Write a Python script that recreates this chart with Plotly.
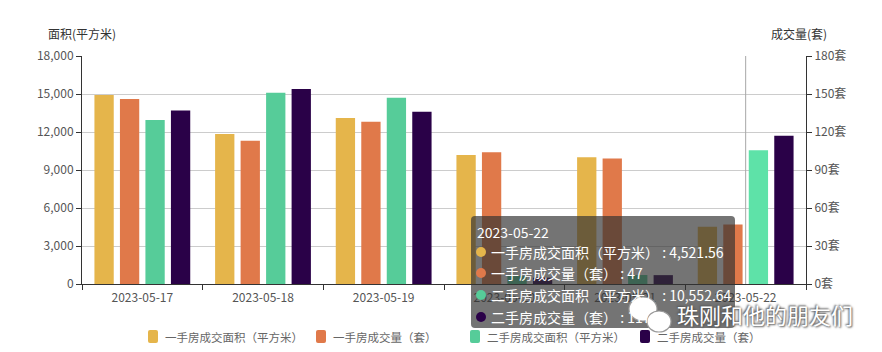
import plotly.graph_objects as go

# ---------------- data ----------------
dates = ["2023-05-17", "2023-05-18", "2023-05-19", "2023-05-20", "2023-05-21", "2023-05-22"]
new_area = [14920, 11840, 13100, 10180, 10000, 4521.56]       # 一手房成交面积（平方米）
new_count = [146, 113, 128, 104, 99, 47]                      # 一手房成交量（套）
second_area = [12950, 15100, 14710, 650, 710, 10552.64]       # 二手房成交面积（平方米）
second_count = [137, 154, 136, 5, 7, 117]                     # 二手房成交量（套）

series_names = ["一手房成交面积（平方米）", "一手房成交量（套）", "二手房成交面积（平方米）", "二手房成交量（套）"]
left_ticks = [0, 3000, 6000, 9000, 12000, 15000, 18000]
right_ticks = [0, 30, 60, 90, 120, 150, 180]
right_tick_text = [f"{v}套" for v in right_ticks]

colors = ["#E5B54B", "#E0794A", "#56CC99", "#2A0148"]
green_colors = [colors[2]] * 5 + ["#5EE2A8"]

FONT = "Noto Sans CJK SC, Microsoft YaHei, sans-serif"

# ---------------- layout geometry ----------------
W, H = 882, 352
L, R, T, B = 82, 806, 56, 284
pw, ph = R - L, B - T


def px(x):
    return (x - L) / pw


def py(y):
    return (B - y) / ph


bw = 0.16
centers = [-0.317, -0.1056, 0.1056, 0.317]

fig = go.Figure()
fig.add_bar(x=dates, y=new_area, name=series_names[0], marker_color=colors[0],
            width=bw, offset=centers[0] - bw / 2, yaxis="y")
fig.add_bar(x=dates, y=new_count, name=series_names[1], marker_color=colors[1],
            width=bw, offset=centers[1] - bw / 2, yaxis="y2")
fig.add_bar(x=dates, y=second_area, name=series_names[2], marker_color=green_colors,
            width=bw, offset=centers[2] - bw / 2, yaxis="y")
fig.add_bar(x=dates, y=second_count, name=series_names[3], marker_color=colors[3],
            width=bw, offset=centers[3] - bw / 2, yaxis="y2")

for tr in fig.data:
    tr.marker.line.width = 0

shapes = []
annotations = []

# axis pointer line on the hovered category
shapes.append(dict(type="line", xref="x", yref="paper", x0=dates[5], x1=dates[5], y0=0, y1=1,
                   line=dict(color="#A8A8A8", width=1), layer="above"))


def rounded(x0, y0, x1, y1, r):
    return (f"M{px(x0 + r)},{py(y0)} L{px(x1 - r)},{py(y0)} Q{px(x1)},{py(y0)} {px(x1)},{py(y0 + r)} "
            f"L{px(x1)},{py(y1 - r)} Q{px(x1)},{py(y1)} {px(x1 - r)},{py(y1)} "
            f"L{px(x0 + r)},{py(y1)} Q{px(x0)},{py(y1)} {px(x0)},{py(y1 - r)} "
            f"L{px(x0)},{py(y0 + r)} Q{px(x0)},{py(y0)} {px(x0 + r)},{py(y0)} Z")


# legend (drawn manually to match compact spacing)
legend_x = [148, 316, 470, 640]
for i in range(4):
    x0 = legend_x[i]
    shapes.append(dict(type="path", xref="paper", yref="paper", path=rounded(x0, 330, x0 + 10, 343, 2),
                       fillcolor=colors[i], line=dict(width=0), layer="below"))
    annotations.append(dict(xref="paper", yref="paper", x=px(x0 + 15), y=py(336.5), xanchor="left",
                            yanchor="middle", text=series_names[i], showarrow=False,
                            font=dict(family=FONT, size=11.5, color="#666666")))

# tooltip box
shapes.append(dict(type="path", xref="paper", yref="paper", path=rounded(471, 216, 735, 328, 4),
                   fillcolor="rgba(50,50,50,0.68)", line=dict(width=0), layer="above"))

annotations.append(dict(xref="paper", yref="paper", x=px(475), y=py(232), xanchor="left", yanchor="middle",
                        text=dates[5], showarrow=False, font=dict(family=FONT, size=14, color="#FFFFFF")))

tip_vals = [f"{new_area[5]:,.2f}", f"{new_count[5]}", f"{second_area[5]:,.2f}", f"{second_count[5]}"]
tip_ys = [252, 273, 295, 317]
for i in range(4):
    yy = tip_ys[i]
    shapes.append(dict(type="circle", xref="paper", yref="paper",
                       x0=px(476), x1=px(486), y0=py(yy + 5), y1=py(yy - 5),
                       fillcolor=colors[i], line=dict(width=0), layer="above"))
    annotations.append(dict(xref="paper", yref="paper", x=px(489), y=py(yy), xanchor="left", yanchor="middle",
                            text=f"{series_names[i]} : {tip_vals[i]}", showarrow=False,
                            font=dict(family=FONT, size=14, color="#FFFFFF")))

# watermark (WeChat icon + account name)
shapes.append(dict(type="circle", xref="paper", yref="paper",
                   x0=px(629), x1=px(657), y0=py(321), y1=py(297),
                   fillcolor="#FFFFFF", line=dict(color="#9A9A9A", width=1.2), layer="above"))
shapes.append(dict(type="circle", xref="paper", yref="paper",
                   x0=px(647), x1=px(671), y0=py(332), y1=py(311),
                   fillcolor="#FFFFFF", line=dict(color="#9A9A9A", width=1.2), layer="above"))
annotations.append(dict(xref="paper", yref="paper", x=px(675), y=py(314), xanchor="left", yanchor="middle",
                        text="珠刚和他的朋友们", showarrow=False,
                        font=dict(family=FONT, size=22, color="#FFFFFF",
                                  shadow="1px 1px 2px #555, -1px -1px 2px #555")))

# axis names
annotations.append(dict(xref="paper", yref="paper", x=px(82), y=py(33), xanchor="center", yanchor="middle",
                        text="面积(平方米)", showarrow=False, font=dict(family=FONT, size=12, color="#333333")))
annotations.append(dict(xref="paper", yref="paper", x=px(799), y=py(33), xanchor="center", yanchor="middle",
                        text="成交量(套)", showarrow=False, font=dict(family=FONT, size=12, color="#333333")))

fig.update_layout(
    width=W, height=H,
    margin=dict(l=L, r=W - R, t=T, b=H - B, pad=0, autoexpand=False),
    paper_bgcolor="#FFFFFF", plot_bgcolor="#FFFFFF",
    barmode="overlay",
    font=dict(family=FONT, size=12, color="#555555"),
    showlegend=False,
    xaxis=dict(type="category", showgrid=False, showline=True, linecolor="#333333", linewidth=1,
               ticks="outside", tickson="boundaries", ticklen=5, tickcolor="#333333", automargin=False,
               ticklabelstandoff=3,
               tickfont=dict(family=FONT, size=12, color="#555555"), zeroline=False),
    yaxis=dict(range=[0, 18000], tickmode="array", tickvals=left_ticks, tickformat=",", showgrid=True,
               gridcolor="#CCCCCC", gridwidth=1, showline=True, linecolor="#333333", linewidth=1,
               ticks="outside", ticklen=5, automargin=False,
               tickcolor="#333333", tickfont=dict(family=FONT, size=12, color="#555555"), zeroline=False),
    yaxis2=dict(range=[0, 180], tickmode="array", tickvals=right_ticks, ticktext=right_tick_text,
                overlaying="y", side="right", automargin=False,
                showgrid=False, showline=True, linecolor="#333333", linewidth=1, ticks="outside", ticklen=5,
                tickcolor="#333333", tickfont=dict(family=FONT, size=12, color="#555555"), zeroline=False),
    shapes=shapes,
    annotations=annotations,
    hovermode=False,
)

fig.write_html("out.html")
